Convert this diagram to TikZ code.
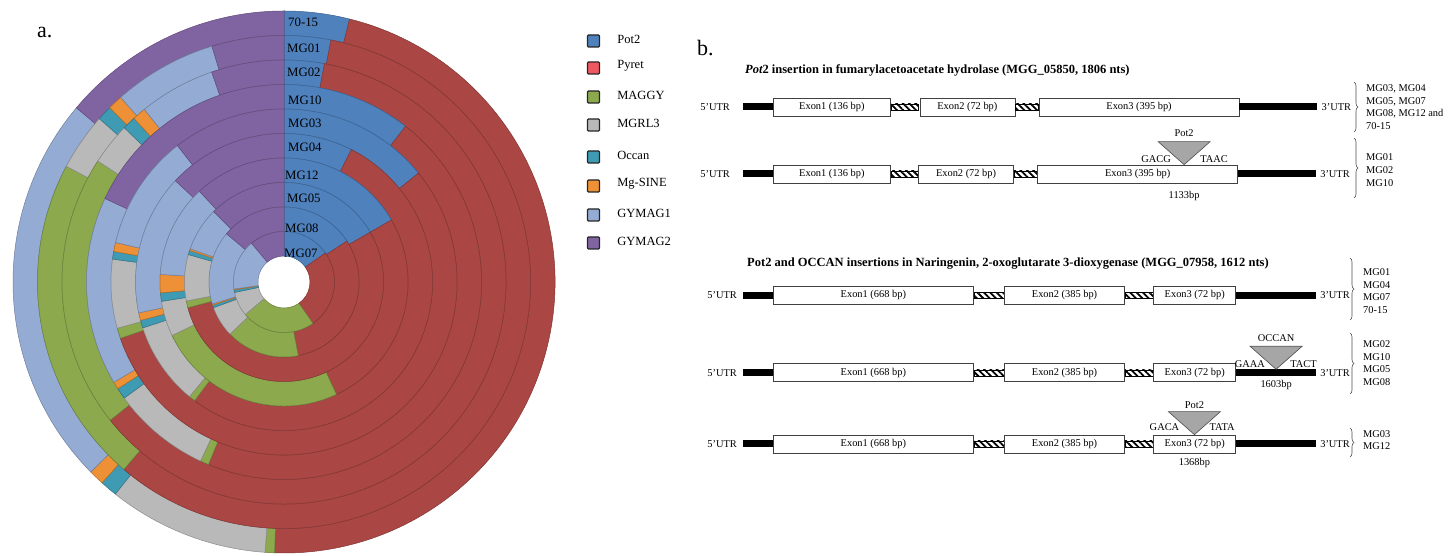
\documentclass[tikz,border=0pt]{standalone}
\usepackage{fontspec}
\setmainfont{Liberation Serif}
\usetikzlibrary{positioning,patterns.meta,decorations.pathreplacing}

\definecolor{pottwo}{HTML}{4F81BD}
\definecolor{pyret}{HTML}{AA4643}
\definecolor{pyretkey}{HTML}{EF5860}
\definecolor{maggy}{HTML}{8CA94D}
\definecolor{mgrl}{HTML}{B9B9B9}
\definecolor{occan}{HTML}{3E9BB3}
\definecolor{mgsine}{HTML}{EE9036}
\definecolor{gymagA}{HTML}{94ABD3}
\definecolor{gymagB}{HTML}{8064A2}
\colorlet{seg1}{pottwo}
\colorlet{seg2}{pyret}
\colorlet{seg3}{maggy}
\colorlet{seg4}{mgrl}
\colorlet{seg5}{occan}
\colorlet{seg6}{mgsine}
\colorlet{seg7}{gymagA}
\colorlet{seg8}{gymagB}

\begin{document}
\begin{tikzpicture}[x=1pt,y=1pt,
    seg/.style={line width=0.5pt},
    ringlbl/.style={anchor=west,inner sep=0pt,font=\fontsize{12.8}{14}\selectfont},
    key/.style={draw=black!85,line width=1.3pt,rounded corners=1pt,minimum size=12pt,inner sep=0pt},
    keylbl/.style={anchor=west,inner sep=0pt,font=\fontsize{12.5}{14}\selectfont},
    panel/.style={anchor=west,inner sep=0pt,font=\fontsize{22}{24}\selectfont},
    title/.style={anchor=west,inner sep=0pt,font=\fontsize{12.5}{14}\selectfont\bfseries},
    exon/.style={draw=black!75,line width=0.7pt,fill=white,minimum height=18pt,inner sep=0pt,font=\fontsize{10.4}{12}\selectfont},
    intron/.style={draw=black,line width=0.5pt,minimum height=6pt,inner sep=0pt,preaction={fill=white},pattern={Lines[angle=-45,distance=4.5pt,line width=1.8pt]}},
    utr/.style={fill=black,minimum height=7pt,inner sep=0pt,outer sep=0pt},
    lbl/.style={inner sep=0pt,font=\fontsize{10.4}{12}\selectfont},
    grp/.style={anchor=west,align=left,inner sep=0pt,font=\fontsize{10.4}{12.7}\selectfont},
    brc/.style={draw=black!70,line width=0.6pt,decorate,decoration={brace,amplitude=4pt}},
    ins/.style={draw=black!70,fill=black!35,line width=0.6pt}]
  \useasboundingbox (0,0) rectangle (1456,556);

  % a. doughnut, outer ring first
  \node[panel] (pa) at (37,523) {a.};
  \begin{scope}[shift={(284,274)}]
    \foreach \cuts [count=\ri from 0] in {
        {14,182,184,218.5,222.2,225.5,310,360},
        {11,220.5,298,311.5,315,318.5,343,360},
        {10.5,231.5,303,314,317.5,321,341,360},
        {38,202.5,205,234,237.3,239.5,295,360},
        {51,251,254.5,277.6,280.2,283.2,322,360},
        {27,217,219.5,252,255,258,313,360},
        {60,155,244.5,261,265,273.5,317,360},
        {60,255,259,286,288.5,289.5,315,360},
        {57,169,226,250,252,253,310,360},
        {55,145,230,258,261,262,320,360}} {
      \pgfmathsetmacro{\rout}{271-24.5*\ri}
      \pgfmathsetmacro{\rin}{\rout-24.5}
      \foreach \cut [count=\k, remember=\cut as \prev (initially 0)] in \cuts {
        \filldraw[seg,fill=seg\k,draw=seg\k!75!black]
          ({90-\prev}:\rin) -- ({90-\prev}:\rout)
          arc[start angle={90-\prev},end angle={90-\cut},radius=\rout pt]
          -- ({90-\cut}:\rin)
          arc[start angle={90-\cut},end angle={90-\prev},radius=\rin pt] -- cycle;
      }
    }
  \end{scope}
  \foreach \nm/\xx/\yy [count=\i] in {70-15/288/22,MG01/287/48,MG02/287/72,MG10/288/100,
      MG03/288/123,MG04/288/147,MG12/285/175,MG05/287/198,MG08/285/228,MG07/284/253}
    \node[ringlbl] (rl\i) at (\xx,556-\yy) {\nm};

  % legend
  \foreach \nm/\col/\yy [count=\i] in {Pot2/pottwo/41,Pyret/pyretkey/68,MAGGY/maggy/97,
      MGRL3/mgrl/125,Occan/occan/157,Mg-SINE/mgsine/186,GYMAG1/gymagA/215,GYMAG2/gymagB/243} {
    \node[key,fill=\col] (k\i) at (593.5,556-\yy) {};
    \node[keylbl,right=17pt of k\i,yshift=2pt] (kl\i) {\nm};
  }

  % b. gene models
  \node[panel] (pb) at (697,508) {b.};
  \node[title] (ta) at (745,486) {{\itshape Pot}2 insertion in fumarylacetoacetate hydrolase (MGG\_05850, 1806 nts)};
  \node[title] (tb) at (747,292) {Pot2 and OCCAN insertions in Naringenin, 2-oxoglutarate 3-dioxygenase (MGG\_07958, 1612 nts)};

  \foreach \r/\y in {a/449,b/382} {
    \node[utr,minimum width=30pt] (u5\r) at (758,\y) {};
    \node[exon,minimum width=117pt,right=0pt of u5\r] (e1\r) {Exon1 (136 bp)};
    \node[intron,minimum width=27pt,right=0pt of e1\r] (i1\r) {};
    \node[exon,minimum width=95pt,right=0pt of i1\r] (e2\r) {Exon2 (72 bp)};
    \node[intron,minimum width=23pt,right=0pt of e2\r] (i2\r) {};
    \node[exon,minimum width=200pt,right=0pt of i2\r] (e3\r) {Exon3 (395 bp)};
    \node[utr,minimum width=78pt,right=0pt of e3\r] (u3\r) {};
    \node[lbl,left=13pt of u5\r] (t5\r) {5'UTR};
    \node[lbl,right=4pt of u3\r] (t3\r) {3'UTR};
  }
  \foreach \r/\y in {c/260.7,d/183.2,e/112} {
    \node[utr,minimum width=30pt] (u5\r) at (758,\y) {};
    \node[exon,minimum width=200pt,right=0pt of u5\r] (e1\r) {Exon1 (668 bp)};
    \node[intron,minimum width=30pt,right=0pt of e1\r] (i1\r) {};
    \node[exon,minimum width=120pt,right=0pt of i1\r] (e2\r) {Exon2 (385 bp)};
    \node[intron,minimum width=28pt,right=0pt of e2\r] (i2\r) {};
    \node[exon,minimum width=82pt,right=0pt of i2\r] (e3\r) {Exon3 (72 bp)};
    \node[utr,minimum width=80pt,right=0pt of e3\r] (u3\r) {};
    \node[lbl,left=6pt of u5\r] (t5\r) {5'UTR};
    \node[lbl,right=4pt of u3\r] (t3\r) {3'UTR};
  }

  % insertions
  \coordinate (p1) at ([xshift=146.7pt]e3b.north west);
  \draw[ins] (p1) -- ++(-26,23) -- ++(52,0) -- cycle;
  \node[lbl] (n1) at ([yshift=32pt]p1) {Pot2};
  \node[lbl,anchor=east] (l1) at ([shift={(-13pt,6pt)}]p1) {GACG};
  \node[lbl,anchor=west] (r1) at ([shift={(16pt,6pt)}]p1) {TAAC};
  \node[lbl] (s1) at ([yshift=-31pt]p1) {1133bp};

  \coordinate (p2) at ([xshift=40pt]u3d.north west);
  \draw[ins] (p2) -- ++(-26,23) -- ++(52,0) -- cycle;
  \node[lbl] (n2) at ([yshift=31pt]p2) {OCCAN};
  \node[lbl,anchor=east] (l2) at ([shift={(-11pt,5pt)}]p2) {GAAA};
  \node[lbl,anchor=west] (r2) at ([shift={(14pt,5pt)}]p2) {TACT};
  \node[lbl] (s2) at ([yshift=-16pt]p2) {1603bp};

  \coordinate (p3) at ([xshift=41pt]e3e.north west);
  \draw[ins] (p3) -- ++(-26,23) -- ++(52,0) -- cycle;
  \node[lbl] (n3) at ([yshift=30pt]p3) {Pot2};
  \node[lbl,anchor=east] (l3) at ([shift={(-15pt,8pt)}]p3) {GACA};
  \node[lbl,anchor=west] (r3) at ([shift={(15pt,8pt)}]p3) {TATA};
  \node[lbl] (s3) at ([yshift=-28pt]p3) {1368bp};

  % strain groups
  \coordinate (bt1) at (1354,474); \coordinate (bb1) at (1354,424);
  \coordinate (bt2) at (1354,418); \coordinate (bb2) at (1354,358);
  \coordinate (bt3) at (1350,298); \coordinate (bb3) at (1350,236);
  \coordinate (bt4) at (1350,223); \coordinate (bb4) at (1350,162);
  \coordinate (bt5) at (1350,128); \coordinate (bb5) at (1350,99);
  \foreach \i in {1,...,5}
    \draw[brc] (bt\i) -- (bb\i);
  \node[grp] (g1) at (1366,449) {MG03, MG04\\MG05, MG07\\MG08, MG12 and\\70-15};
  \node[grp] (g2) at (1366,386) {MG01\\MG02\\MG10};
  \node[grp] (g3) at (1363,265) {MG01\\MG04\\MG07\\70-15};
  \node[grp] (g4) at (1363,193) {MG02\\MG10\\MG05\\MG08};
  \node[grp] (g5) at (1363,116) {MG03\\MG12};
\end{tikzpicture}
\end{document}
